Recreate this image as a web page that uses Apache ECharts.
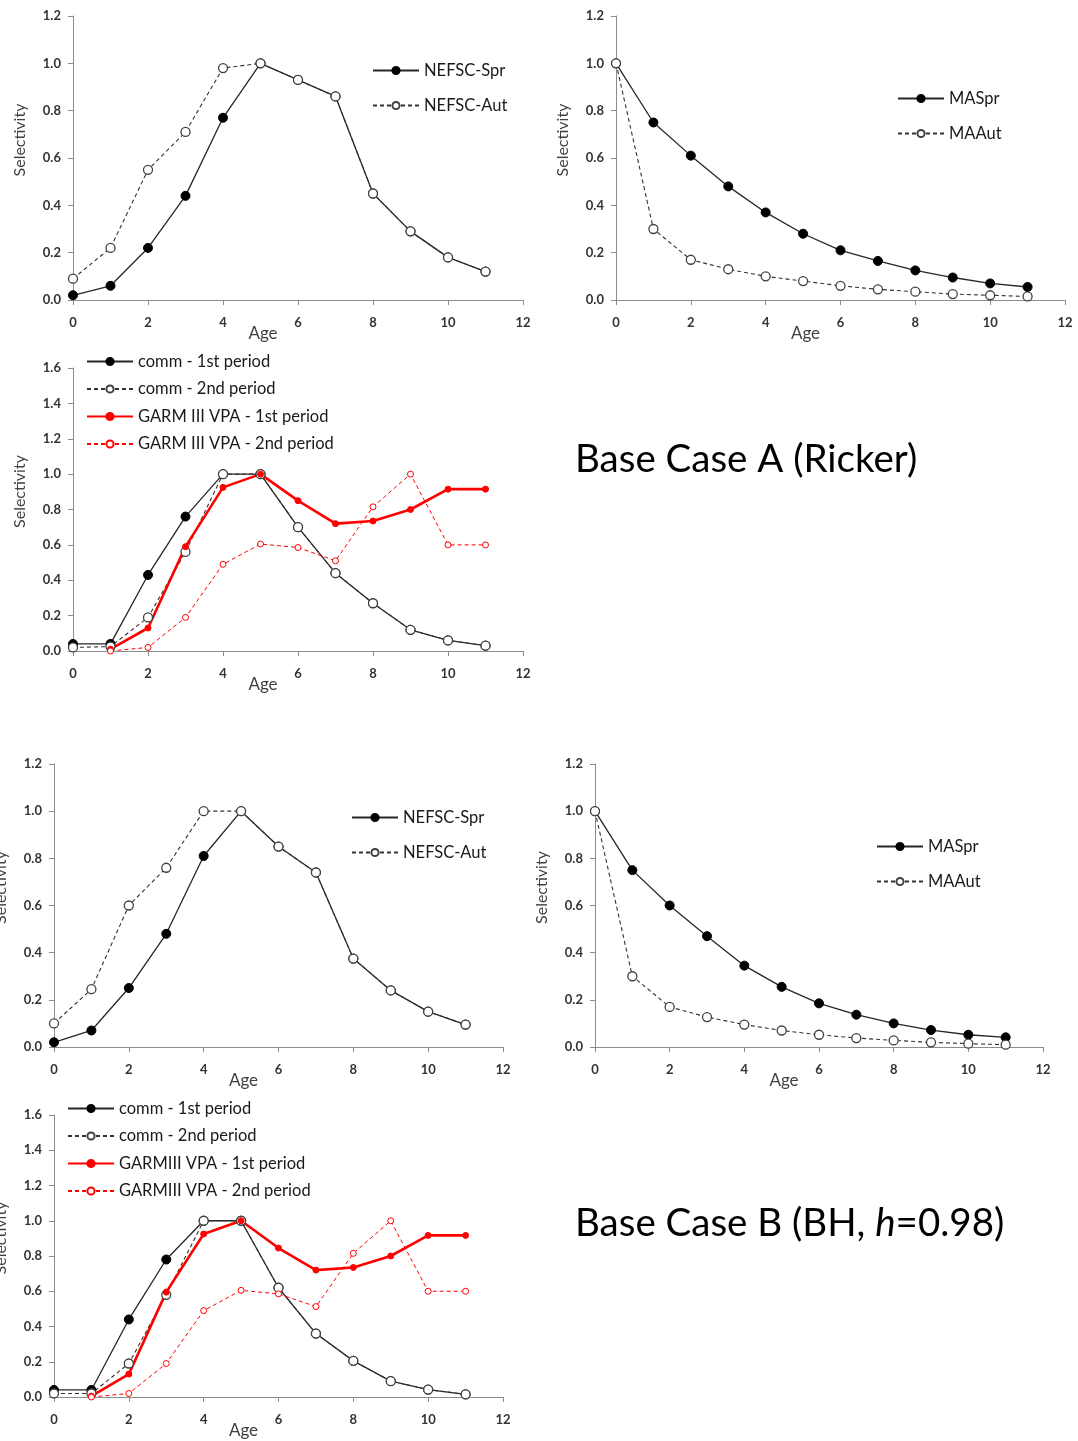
<!DOCTYPE html>
<html>
<head>
    <meta charset="utf-8" />
    <title>Selectivity at age</title>
    <style type="text/css">
        html, body {
            margin: 0;
            padding: 0;
            background-color: #fff;
        }

        #charts {
            width: 1078px;
            height: 1441px;
        }
    </style>
</head>
<body>
    <div id="charts"></div>
    <script src="https://cdn.jsdelivr.net/npm/echarts@6/dist/echarts.min.js"></script>
    <script type="text/javascript">
        // ages on the x axis
        var ages = [0, 1, 2, 3, 4, 5, 6, 7, 8, 9, 10, 11];
        var xTicks = [0, 2, 4, 6, 8, 10, 12];

        // Base Case A (Ricker)
        var aNefscSpr = [0.02, 0.06, 0.22, 0.44, 0.77, 1.0, 0.93, 0.86, 0.45, 0.29, 0.18, 0.12];
        var aNefscAut = [0.09, 0.22, 0.55, 0.71, 0.98, 1.0, 0.93, 0.86, 0.45, 0.29, 0.18, 0.12];
        var aMaSpr = [1.0, 0.75, 0.61, 0.48, 0.37, 0.28, 0.21, 0.165, 0.125, 0.095, 0.07, 0.055];
        var aMaAut = [1.0, 0.30, 0.17, 0.13, 0.10, 0.08, 0.06, 0.045, 0.035, 0.025, 0.02, 0.015];
        var aComm1 = [0.04, 0.04, 0.43, 0.76, 1.0, 1.0, 0.70, 0.44, 0.27, 0.12, 0.06, 0.03];
        var aComm2 = [0.02, 0.025, 0.19, 0.56, 1.0, 1.0, 0.70, 0.44, 0.27, 0.12, 0.06, 0.03];
        var aGarm1 = [null, 0.01, 0.13, 0.59, 0.925, 1.0, 0.85, 0.72, 0.735, 0.80, 0.915, 0.915];
        var aGarm2 = [null, 0.0, 0.02, 0.19, 0.49, 0.605, 0.585, 0.51, 0.815, 1.0, 0.60, 0.60];

        // Base Case B (BH, h=0.98)
        var bNefscSpr = [0.02, 0.07, 0.25, 0.48, 0.81, 1.0, 0.85, 0.74, 0.375, 0.24, 0.15, 0.095];
        var bNefscAut = [0.10, 0.245, 0.60, 0.76, 1.0, 1.0, 0.85, 0.74, 0.375, 0.24, 0.15, 0.095];
        var bMaSpr = [1.0, 0.75, 0.60, 0.47, 0.345, 0.255, 0.185, 0.137, 0.10, 0.072, 0.052, 0.041];
        var bMaAut = [1.0, 0.30, 0.17, 0.127, 0.095, 0.07, 0.052, 0.038, 0.028, 0.02, 0.014, 0.01];
        var bComm1 = [0.04, 0.04, 0.44, 0.78, 1.0, 1.0, 0.62, 0.36, 0.205, 0.09, 0.042, 0.015];
        var bComm2 = [0.02, 0.02, 0.19, 0.58, 1.0, 1.0, 0.62, 0.36, 0.205, 0.09, 0.042, 0.015];
        var bGarm1 = [null, 0.005, 0.13, 0.595, 0.925, 1.0, 0.845, 0.72, 0.735, 0.80, 0.917, 0.917];
        var bGarm2 = [null, 0.0, 0.02, 0.19, 0.49, 0.605, 0.585, 0.513, 0.815, 1.0, 0.60, 0.60];

        var FONT = 'Lato, "Open Sans", sans-serif';
        var AXIS_GRAY = '#8c8c8c';
        var LABEL_COLOR = '#333';

        // panel boxes: left, top, width, height of plot area
        var panels = [
            { left: 73, top: 16, width: 450, height: 284, yMax: 1.2 },
            { left: 616, top: 16, width: 449, height: 284, yMax: 1.2 },
            { left: 73, top: 368, width: 450, height: 283, yMax: 1.6 },
            { left: 54, top: 764, width: 449, height: 283, yMax: 1.2 },
            { left: 595, top: 764, width: 448, height: 283, yMax: 1.2 },
            { left: 54, top: 1115, width: 449, height: 282, yMax: 1.6 }
        ];

        var pairs = function (vals) {
            var out = [];
            for (var i = 0; i < ages.length; i++) {
                if (vals[i] !== null) out.push([ages[i], vals[i]]);
            }
            return out;
        };

        var solidBlack = function (name, vals, g) {
            return {
                type: 'line', name: name, xAxisIndex: g, yAxisIndex: g, data: pairs(vals),
                symbol: 'circle', symbolSize: 9,
                lineStyle: { color: '#262626', width: 1.3 },
                itemStyle: { color: '#000', borderColor: '#000', borderWidth: 1 }
            };
        };
        var dashedOpen = function (name, vals, g) {
            return {
                type: 'line', name: name, xAxisIndex: g, yAxisIndex: g, data: pairs(vals),
                symbol: 'circle', symbolSize: 9,
                lineStyle: { color: '#333', width: 1.1, type: [4, 3] },
                itemStyle: { color: '#fff', borderColor: '#404040', borderWidth: 1.3 }
            };
        };
        var solidRed = function (name, vals, g) {
            return {
                type: 'line', name: name, xAxisIndex: g, yAxisIndex: g, data: pairs(vals),
                symbol: 'circle', symbolSize: 6,
                lineStyle: { color: '#ff0000', width: 2.6 },
                itemStyle: { color: '#ff0000', borderColor: '#ff0000', borderWidth: 1 }
            };
        };
        var dashedRed = function (name, vals, g) {
            return {
                type: 'line', name: name, xAxisIndex: g, yAxisIndex: g, data: pairs(vals),
                symbol: 'circle', symbolSize: 6,
                lineStyle: { color: '#ff0000', width: 1, type: [4, 3] },
                itemStyle: { color: '#fff', borderColor: '#ff0000', borderWidth: 1 }
            };
        };

        var grids = [], xAxes = [], yAxes = [], graphics = [];
        panels.forEach(function (p, i) {
            grids.push({ left: p.left, top: p.top, width: p.width, height: p.height });
            xAxes.push({
                type: 'value', gridIndex: i, min: 0, max: 12, interval: 2,
                splitLine: { show: false },
                axisLine: { lineStyle: { color: AXIS_GRAY, width: 1 } },
                axisTick: { show: true, length: 5, lineStyle: { color: AXIS_GRAY } },
                axisLabel: {
                    margin: 16, color: LABEL_COLOR, fontFamily: FONT, fontSize: 13, fontWeight: 'bold',
                    customValues: xTicks
                }
            });
            yAxes.push({
                type: 'value', gridIndex: i, min: 0, max: p.yMax, interval: 0.2,
                splitLine: { show: false },
                axisLine: { show: true, lineStyle: { color: AXIS_GRAY, width: 1 } },
                axisTick: { show: true, length: 5, lineStyle: { color: AXIS_GRAY } },
                axisLabel: {
                    margin: 12, color: LABEL_COLOR, fontFamily: FONT, fontSize: 13, fontWeight: 'bold',
                    formatter: function (v) { return v.toFixed(1); }
                }
            });
            // axis titles
            graphics.push({
                type: 'text', x: p.left - 53, y: p.top + p.height / 2 - 18, rotation: Math.PI / 2,
                style: {
                    text: 'Selectivity', fill: '#404040', font: '16px ' + FONT,
                    textAlign: 'center', textVerticalAlign: 'middle'
                }
            });
            graphics.push({
                type: 'text', x: p.left + p.width / 2 - 35, y: p.top + p.height + 34,
                style: {
                    text: 'Age', fill: '#404040', font: '17px ' + FONT,
                    textAlign: 'center', textVerticalAlign: 'middle'
                }
            });
        });

        var legendBase = {
            orient: 'vertical', itemWidth: 46, itemHeight: 9, itemGap: 18,
            textStyle: { fontFamily: FONT, fontSize: 16.5, color: '#1a1a1a' }
        };
        var legends = [
            Object.assign({}, legendBase, { left: 367, top: 57, data: ['NEFSC-Spr', 'NEFSC-Aut'] }),
            Object.assign({}, legendBase, { left: 892, top: 85, data: ['MASpr', 'MAAut'] }),
            Object.assign({}, legendBase, { left: 81, top: 348, itemGap: 10.5, data: ['comm - 1st period', 'comm - 2nd period', 'GARM III VPA - 1st period', 'GARM III VPA - 2nd period'] }),
            Object.assign({}, legendBase, { left: 346, top: 804, data: ['NEFSC-Spr', 'NEFSC-Aut'] }),
            Object.assign({}, legendBase, { left: 871, top: 833, data: ['MASpr', 'MAAut'] }),
            Object.assign({}, legendBase, { left: 62, top: 1095, itemGap: 10.5, data: ['comm - 1st period', 'comm - 2nd period', 'GARMIII VPA - 1st period', 'GARMIII VPA - 2nd period'] })
        ];

        var series = [
            solidBlack('NEFSC-Spr', aNefscSpr, 0),
            dashedOpen('NEFSC-Aut', aNefscAut, 0),
            solidBlack('MASpr', aMaSpr, 1),
            dashedOpen('MAAut', aMaAut, 1),
            solidBlack('comm - 1st period', aComm1, 2),
            dashedOpen('comm - 2nd period', aComm2, 2),
            solidRed('GARM III VPA - 1st period', aGarm1, 2),
            dashedRed('GARM III VPA - 2nd period', aGarm2, 2),
            solidBlack('NEFSC-Spr', bNefscSpr, 3),
            dashedOpen('NEFSC-Aut', bNefscAut, 3),
            solidBlack('MASpr', bMaSpr, 4),
            dashedOpen('MAAut', bMaAut, 4),
            solidBlack('comm - 1st period', bComm1, 5),
            dashedOpen('comm - 2nd period', bComm2, 5),
            solidRed('GARMIII VPA - 1st period', bGarm1, 5),
            dashedRed('GARMIII VPA - 2nd period', bGarm2, 5)
        ];

        var ChartOption = {
            backgroundColor: '#fff',
            animation: false,
            title: [
                {
                    text: 'Base Case A (Ricker)', left: 575, top: 440, padding: 0,
                    textStyle: { fontFamily: FONT, fontSize: 38.5, fontWeight: 'normal', color: '#000' }
                },
                {
                    text: 'Base Case B (BH, {i|h}=0.98)', left: 575, top: 1204, padding: 0,
                    textStyle: {
                        fontFamily: FONT, fontSize: 38.5, fontWeight: 'normal', color: '#000',
                        rich: { i: { fontFamily: FONT, fontSize: 38.5, fontStyle: 'italic', color: '#000' } }
                    }
                }
            ],
            legend: legends,
            grid: grids,
            xAxis: xAxes,
            yAxis: yAxes,
            graphic: graphics,
            series: series
        };

        var myChart = echarts.init(document.getElementById('charts'), null, { renderer: 'canvas' });
        myChart.setOption(ChartOption);
    </script>
</body>
</html>
